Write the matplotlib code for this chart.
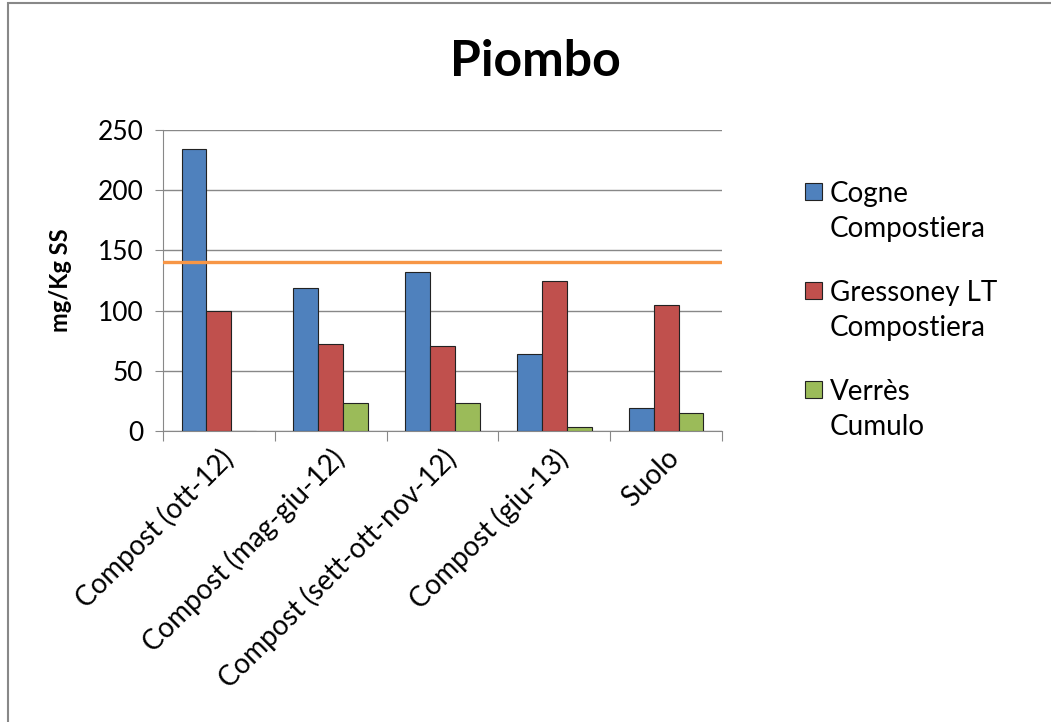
import numpy as np
import matplotlib
matplotlib.use('Agg')
import matplotlib.pyplot as plt
from matplotlib.patches import Rectangle
from matplotlib.container import BarContainer
from matplotlib.legend_handler import HandlerPatch, update_from_first_child

plt.rcParams['font.family'] = ['Lato', 'DejaVu Sans']

categories = ['Compost (ott-12)', 'Compost (mag-giu-12)', 'Compost (sett-ott-nov-12)',
              'Compost (giu-13)', 'Suolo']
series = ['Cogne\nCompostiera', 'Gressoney LT\nCompostiera', 'Verrès\nCumulo']
cogne = [234, 119, 132, 64, 19]
gressoney = [100, 72, 71, 125, 105]
verres = [0, 23, 23, 3, 15]
soglia = 140
colors = ['#4F81BD', '#C0504D', '#9BBB59']

fig = plt.figure(figsize=(10.51, 7.22), dpi=100)
ax = fig.add_axes([163/1051, 1-431/722, (722-163)/1051, (431-130)/722])

x = np.arange(len(categories))
w = 1/4.5
for i, (vals, lab) in enumerate(zip([cogne, gressoney, verres], series)):
    ax.bar(x + (i-1)*w, vals, w, color=colors[i], edgecolor='#222222',
           linewidth=0.8, label=lab, zorder=3)

ax.axhline(soglia, color='#F79646', linewidth=2.4, zorder=4)

ax.set_xlim(-0.5, len(categories)-0.5)
ax.set_ylim(0, 250)
ax.set_yticks(np.arange(0, 251, 50))
ax.yaxis.grid(True, color='#888888', linewidth=1, zorder=0)
ax.set_xticks(np.arange(-0.5, len(categories), 1))
ax.set_xticklabels([])
ax.set_xticks(x, minor=True)
ax.set_xticklabels(categories, minor=True, rotation=45, ha='right',
                   rotation_mode='anchor', fontsize=20)
ax.tick_params(axis='x', which='minor', length=0, pad=10)
ax.tick_params(axis='x', which='major', length=7, color='#888888')
ax.tick_params(axis='y', length=6, color='#888888', labelsize=19, pad=8)
for s in ['top', 'right']:
    ax.spines[s].set_visible(False)
for s in ['left', 'bottom']:
    ax.spines[s].set_color('#888888')

ax.set_ylabel('mg/Kg SS', fontsize=17, fontweight='bold')
ax.yaxis.set_label_coords((72-163)/559, 0.5)
fig.text(535/1051, 1-62/722, 'Piombo', fontsize=36, fontweight='bold',
         ha='center', va='center')


def square_top(legend, orig_handle, xdescent, ydescent, width, height, fontsize):
    # allinea il quadratino alla prima riga dell'etichetta
    return Rectangle((-xdescent, -ydescent + 0.75*fontsize), width, height)


leg = ax.legend(loc='upper left', bbox_to_anchor=(805/1051, 1-181/722),
                bbox_transform=fig.transFigure, frameon=False, fontsize=20,
                handlelength=0.6, handleheight=0.6, handletextpad=0.3,
                labelspacing=1.35, borderpad=0, borderaxespad=0,
                handler_map={BarContainer: HandlerPatch(patch_func=square_top,
                                                        update_func=update_from_first_child)})
for t in leg.get_texts():
    t.set_linespacing(1.45)

fig.patches.append(Rectangle((8/1051, -0.05), 1.1, 1-3/722+0.05,
                             transform=fig.transFigure, fill=False,
                             edgecolor='#888888', linewidth=1.5))

fig.savefig('out.png', dpi=100)
